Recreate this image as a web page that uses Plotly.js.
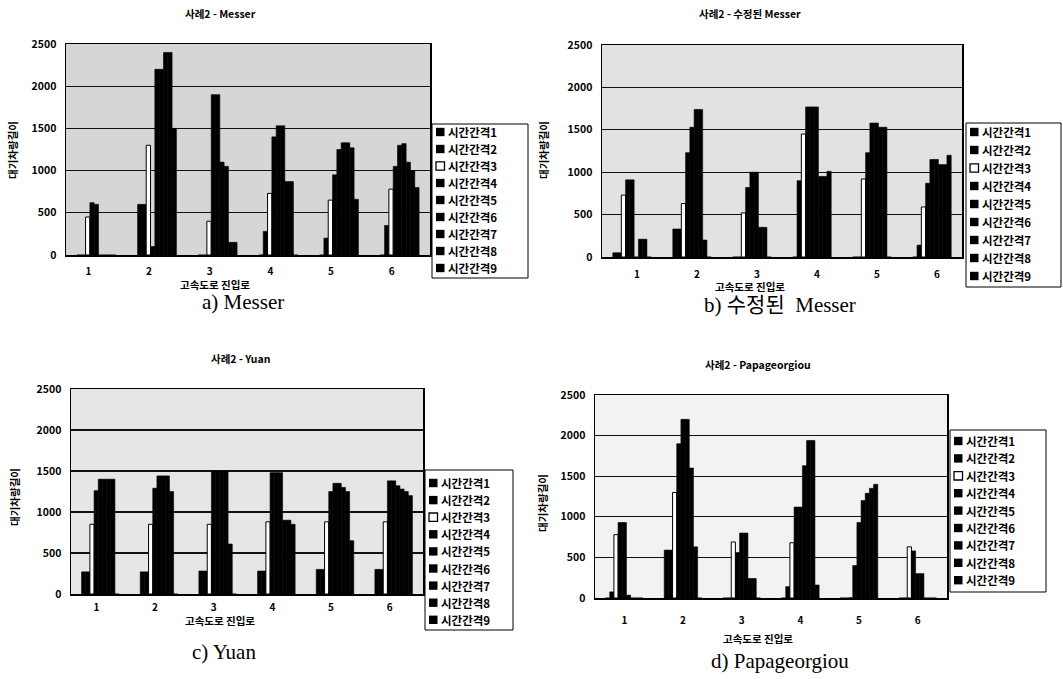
<!DOCTYPE html>
<html>
<head>
<meta charset="utf-8">
<script src="https://cdn.plot.ly/plotly-3.0.1.min.js"></script>
<style>html,body{margin:0;padding:0;background:#fff;}#chart{width:1063px;height:679px;}</style>
</head>
<body>
<div id="chart"></div>
<script>
// ---- data ----
const categories = ['1', '2', '3', '4', '5', '6'];
const seriesNames = ['시간간격1','시간간격2','시간간격3','시간간격4','시간간격5','시간간격6','시간간격7','시간간격8','시간간격9'];
const chartTitles = ['사례2 - Messer', '사례2 - 수정된 Messer', '사례2 - Yuan', '사례2 - Papageorgiou'];
const captions = ['a) Messer', 'b) 수정된  Messer', 'c) Yuan', 'd) Papageorgiou'];
const yTickVals = [0, 500, 1000, 1500, 2000, 2500];

// each row = one series (시간간격 k) across ramps 1..6
const messer = [
  [0, 600, 0, 0, 0, 0],
  [0, 600, 0, 280, 200, 350],
  [450, 1300, 400, 730, 650, 780],
  [620, 100, 1900, 1400, 950, 1050],
  [600, 2200, 1900, 1530, 1250, 1300],
  [0, 2200, 1100, 1530, 1330, 1320],
  [0, 2400, 1050, 870, 1330, 1100],
  [0, 2400, 150, 870, 1270, 1000],
  [0, 1500, 150, 0, 660, 800]
];
const messerModified = [
  [50, 330, 0, 0, 0, 0],
  [50, 330, 0, 900, 0, 140],
  [730, 630, 520, 1450, 920, 590],
  [910, 1230, 820, 1770, 1230, 870],
  [910, 1530, 1000, 1770, 1580, 1150],
  [0, 1740, 1000, 1770, 1580, 1150],
  [210, 1740, 350, 950, 1530, 1090],
  [210, 200, 350, 950, 1530, 1090],
  [0, 0, 0, 1010, 0, 1200]
];
const yuan = [
  [270, 270, 280, 280, 300, 300],
  [270, 270, 280, 280, 300, 300],
  [850, 850, 850, 880, 880, 880],
  [1260, 1290, 1500, 1480, 1250, 1380],
  [1400, 1440, 1500, 1480, 1350, 1380],
  [1400, 1440, 1500, 1480, 1350, 1320],
  [1400, 1440, 1500, 900, 1300, 1280],
  [1400, 1250, 610, 900, 1250, 1250],
  [0, 0, 0, 850, 650, 1200]
];
const papageorgiou = [
  [0, 590, 0, 0, 0, 0],
  [75, 590, 0, 140, 0, 0],
  [780, 1300, 690, 680, 0, 630],
  [930, 1900, 560, 1120, 400, 580],
  [930, 2200, 800, 1120, 930, 300],
  [35, 2200, 800, 1630, 1200, 300],
  [0, 1600, 240, 1940, 1290, 0],
  [0, 630, 240, 1940, 1350, 0],
  [0, 0, 0, 160, 1400, 0]
];
const datasets = [messer, messerModified, yuan, papageorgiou];

// ---- layout geometry (pixels) ----
const W = 1063, H = 679;
const px = v => v / W, py = v => 1 - v / H;
const panels = [
  {l: 66, r: 430, t: 44, b: 255, bg: '#d6d6d6', shift: -8, stand: 6,
   leg: {l: 432, r: 528, t: 124, b: 278, first: 132, step: 17.0},
   title: [220, 13], ytitle: [12, 150], xtitle: [215, 284], caption: [243, 302]},
  {l: 602, r: 962, t: 45, b: 257, bg: '#e2e2e2', shift: 5, stand: 7,
   leg: {l: 966, r: 1061, t: 123, b: 287, first: 132, step: 18.0},
   title: [750, 13], ytitle: [543, 150], xtitle: [750, 286], caption: [780, 305]},
  {l: 71, r: 423, t: 389, b: 594, bg: '#e6e6e6', shift: -4, stand: 3,
   leg: {l: 425, r: 513, t: 470, b: 630, first: 483, step: 17.1},
   title: [240, 358], ytitle: [15, 497], xtitle: [220, 620], caption: [224, 652]},
  {l: 595, r: 947, t: 395, b: 598, bg: '#f2f2f2', shift: 0, stand: 12,
   leg: {l: 950, r: 1046, t: 430, b: 592, first: 441, step: 17.4},
   title: [758, 364], ytitle: [542, 503], xtitle: [758, 638], caption: [780, 661]}
];

const FONT = '"Noto Sans CJK KR", "Noto Sans", sans-serif';
const SERIF = '"Liberation Serif", "DejaVu Serif", "Noto Sans CJK KR", serif';

const traces = [];
const layout = {
  width: W, height: H,
  margin: {l: 0, r: 0, t: 0, b: 0},
  paper_bgcolor: '#ffffff',
  plot_bgcolor: 'rgba(0,0,0,0)',
  barmode: 'group',
  bargap: 0.36,
  bargroupgap: 0,
  showlegend: false,
  annotations: [],
  shapes: []
};

panels.forEach((p, i) => {
  const n = i === 0 ? '' : String(i + 1);
  const xa = 'x' + n, ya = 'y' + n;
  const data = datasets[i];
  seriesNames.forEach((name, k) => {
    const white = k === 2;
    traces.push({
      type: 'bar', name: name, x: categories, y: data[k],
      xaxis: xa, yaxis: ya,
      marker: {color: white ? '#ffffff' : '#000000',
               line: {color: '#000000', width: white ? 1 : 0.6}},
      hoverinfo: 'skip'
    });
  });
  layout['xaxis' + n] = {
    domain: [px(p.l), px(p.r)], anchor: ya,
    type: 'category', range: [-0.5, 5.5],
    showline: true, mirror: true, linecolor: '#000', linewidth: 1.5,
    showgrid: false, ticks: '', zeroline: false,
    tickfont: {family: FONT, size: 10, color: '#000', weight: 'bold'},
    ticklabelshift: p.shift, ticklabelstandoff: p.stand
  };
  layout['yaxis' + n] = {
    domain: [py(p.b), py(p.t)], anchor: xa,
    range: [0, 2500], tickvals: yTickVals, ticktext: yTickVals.map(String),
    showline: true, mirror: true, linecolor: '#000', linewidth: 1.5,
    showgrid: true, gridcolor: '#111', gridwidth: 1.2, zeroline: false, ticks: '',
    tickfont: {family: FONT, size: 10.5, color: '#000', weight: 'bold'},
    ticklabelstandoff: 6
  };
  layout.shapes.push({
    type: 'rect', xref: xa + ' domain', yref: ya + ' domain',
    x0: 0, x1: 1, y0: 0, y1: 1, layer: 'below',
    fillcolor: p.bg, line: {width: 0}
  });
  // legend box (drawn)
  const L = p.leg;
  layout.shapes.push({
    type: 'rect', xref: 'paper', yref: 'paper',
    x0: px(L.l), x1: px(L.r), y0: py(L.b), y1: py(L.t),
    fillcolor: '#ffffff', line: {color: '#000', width: 1}
  });
  seriesNames.forEach((name, k) => {
    const cy = L.first + k * L.step;
    const white = k === 2;
    layout.shapes.push({
      type: 'rect', xref: 'paper', yref: 'paper',
      x0: px(L.l + 4), x1: px(L.l + 12.5), y0: py(cy + 4.2), y1: py(cy - 4.2),
      fillcolor: white ? '#ffffff' : '#000000', line: {color: '#000', width: white ? 1.3 : 0}
    });
    layout.annotations.push({
      text: name, x: px(L.l + 14), y: py(cy), xref: 'paper', yref: 'paper',
      showarrow: false, xanchor: 'left', yanchor: 'middle',
      font: {family: FONT, size: 11.5, color: '#000', weight: 'bold'}
    });
  });
  const ann = (txt, pos, extra) => Object.assign({
    text: txt, x: px(pos[0]), y: py(pos[1]), xref: 'paper', yref: 'paper',
    showarrow: false, xanchor: 'center', yanchor: 'middle',
    font: {family: FONT, size: 10, color: '#000', weight: 'bold'}
  }, extra || {});
  layout.annotations.push(ann(chartTitles[i], p.title, {font: {family: FONT, size: 10.5, color: '#000', weight: 'bold'}}));
  layout.annotations.push(ann('대기차량길이', p.ytitle, {textangle: -90, font: {family: FONT, size: 10.5, color: '#000', weight: 'bold'}}));
  layout.annotations.push(ann('고속도로 진입로', p.xtitle, {font: {family: FONT, size: 10.5, color: '#000', weight: 'bold'}}));
  layout.annotations.push(ann(captions[i], p.caption, {font: {family: SERIF, size: 21, color: '#000'}}));
});

Plotly.newPlot('chart', traces, layout, {displayModeBar: false, staticPlot: true});
</script>
</body>
</html>
